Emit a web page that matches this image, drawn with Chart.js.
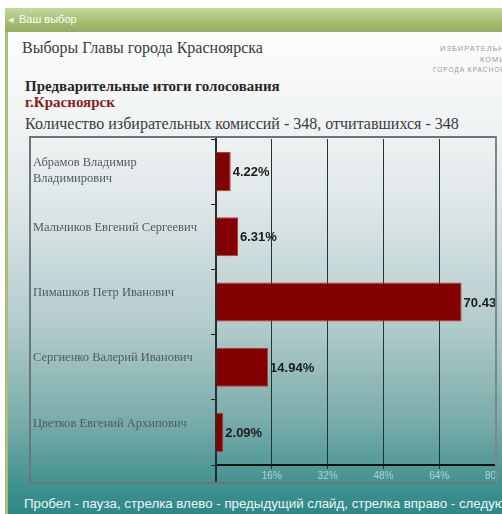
<!DOCTYPE html>
<html lang="ru">
<head>
<meta charset="utf-8">
<title>Выборы Главы города Красноярска</title>
<script src="https://cdn.jsdelivr.net/npm/chart.js@4.4.0/dist/chart.umd.min.js"></script>
<style>
  html, body { margin: 0; padding: 0; }
  body { width: 502px; height: 514px; overflow: hidden; background: #fdfdfd; position: relative; }
  .window { position: absolute; left: 5px; top: 8px; width: 520px; height: 520px; background: #a9c07c; }
  .titlebar { position: absolute; left: 0; top: 0; right: 0; height: 24px;
    background: linear-gradient(#c7d8a0, #a3bc70 60%, #94ad62);
    color: #fff; font: 11px "Liberation Sans", sans-serif; line-height: 22px; padding-left: 14px; }
  .titlebar:before { content: "\25C2"; position: absolute; left: 3px; top: 0; color: #eef3e0; }
  .content { position: absolute; left: 3px; top: 24px; right: 0; bottom: 0;
    background: linear-gradient(#fcfdfd 0px, #f1f4f4 90px, #dfe7e8 170px, #b4cccc 290px, #78acaa 390px, #3b8f8d 460px, #2b8684 490px); }
  .t { position: absolute; white-space: nowrap; font-family: "Liberation Serif", serif; }
  .head { left: 14px; top: 7px; font-size: 16px; color: #3a3a3a; }
  .corner { font: 7.5px "Liberation Sans", sans-serif; color: #9a9a9a; letter-spacing: 1px; }
  .c1 { left: 432px; top: 12px; }
  .c2 { left: 472px; top: 23px; }
  .c3 { left: 425px; top: 34px; font-size: 6.5px; }
  .sub { left: 17px; top: 46px; font-size: 15px; font-weight: bold; color: #262626; }
  .city { left: 17px; top: 62px; font-size: 15px; font-weight: bold; color: #8c1c1c; }
  .count { left: 17px; top: 83px; font-size: 16px; color: #3c3c3c; }
  .foot { left: 16px; top: 464px; font: 13.3px "Liberation Sans", sans-serif; color: #eef6f6; }
  .box { position: absolute; left: 21px; top: 104px; width: 464px; height: 344px; border: 2px solid #6a777a; border-right-color: #7d8789; }
</style>
</head>
<body>
<div class="window">
  <div class="titlebar">Ваш выбор</div>
  <div class="content">
    <div class="t head">Выборы Главы города Красноярска</div>
    <div class="t corner c1">ИЗБИРАТЕЛЬНАЯ</div>
    <div class="t corner c2">КОМИССИЯ</div>
    <div class="t corner c3">ГОРОДА КРАСНОЯРСКА</div>
    <div class="t sub">Предварительные итоги голосования</div>
    <div class="t city">г.Красноярск</div>
    <div class="t count">Количество избирательных комиссий - 348, отчитавшихся - 348</div>
    <div class="box"><canvas id="chart" width="464" height="344"></canvas></div>
    <div class="t foot">Пробел - пауза, стрелка влево - предыдущий слайд, стрелка вправо - следующий слайд</div>
  </div>
</div>
<script>
// first name is top-aligned like the one-line names, hence the blank line
const candidates = [
  ["", "Абрамов Владимир", "Владимирович"],
  "Мальчиков Евгений Сергеевич",
  "Пимашков Петр Иванович",
  "Сергиенко Валерий Иванович",
  "Цветков Евгений Архипович",
];
const percents = [4.22, 6.31, 70.43, 14.94, 2.09];
const axisMax = 80;
const axisStep = 16;

// percent labels to the right of each bar
const valueLabels = {
  id: "valueLabels",
  afterDatasetsDraw(chart) {
    const ctx = chart.ctx;
    const bars = chart.getDatasetMeta(0).data;
    ctx.save();
    ctx.font = "bold 13px 'Liberation Sans', sans-serif";
    ctx.fillStyle = "#1c1c1c";
    ctx.textAlign = "left";
    ctx.textBaseline = "middle";
    bars.forEach((bar, i) => {
      ctx.fillText(percents[i].toFixed(2) + "%", bar.x + 2, bar.y + 1);
    });
    ctx.restore();
  },
};

// the value axis line runs down to the frame
const axisTail = {
  id: "axisTail",
  afterDraw(chart) {
    const ctx = chart.ctx;
    const x = chart.scales.x.getPixelForValue(0);
    ctx.save();
    ctx.strokeStyle = "#1e2b2b";
    ctx.lineWidth = 2;
    ctx.beginPath();
    ctx.moveTo(x, chart.chartArea.bottom);
    ctx.lineTo(x, chart.height);
    ctx.stroke();
    ctx.restore();
  },
};

const ctx = document.getElementById("chart").getContext("2d");
new Chart(ctx, {
  type: "bar",
  data: {
    labels: candidates,
    datasets: [
      {
        data: percents,
        backgroundColor: "#820000",
        borderColor: "#b83a3a",
        borderWidth: 1,
        barPercentage: 1,
        categoryPercentage: 0.6,
      },
    ],
  },
  options: {
    indexAxis: "y",
    responsive: false,
    animation: false,
    layout: { padding: { left: 2, top: 1, right: 0, bottom: 0 } },
    plugins: { legend: { display: false }, tooltip: { enabled: false } },
    scales: {
      x: {
        min: 0,
        max: axisMax,
        afterFit: (scale) => {
          scale.height = 17;
          scale.paddingLeft = 0;
          scale.paddingRight = 0;
        },
        ticks: {
          stepSize: axisStep,
          padding: 1,
          maxRotation: 0,
          color: "rgba(215,235,234,0.7)",
          font: { size: 10, family: "'Liberation Sans', sans-serif" },
          callback: (v) => (v === 0 ? "" : v + "%"),
        },
        grid: { color: "#203636", lineWidth: 1, tickLength: 4 },
        border: { color: "#111", width: 2 },
      },
      y: {
        afterFit: (scale) => {
          scale.width = 183;
          scale.paddingTop = 0;
          scale.paddingBottom = 0;
        },
        ticks: {
          crossAlign: "far",
          labelOffset: -9,
          color: "#4f5c5c",
          font: { size: 12.5, family: "'Liberation Serif', serif", lineHeight: 1.25 },
        },
        grid: { drawOnChartArea: false, tickLength: 5, color: "#222" },
        border: { color: "#26302f", width: 2 },
      },
    },
  },
  plugins: [valueLabels, axisTail],
});
</script>
</body>
</html>
